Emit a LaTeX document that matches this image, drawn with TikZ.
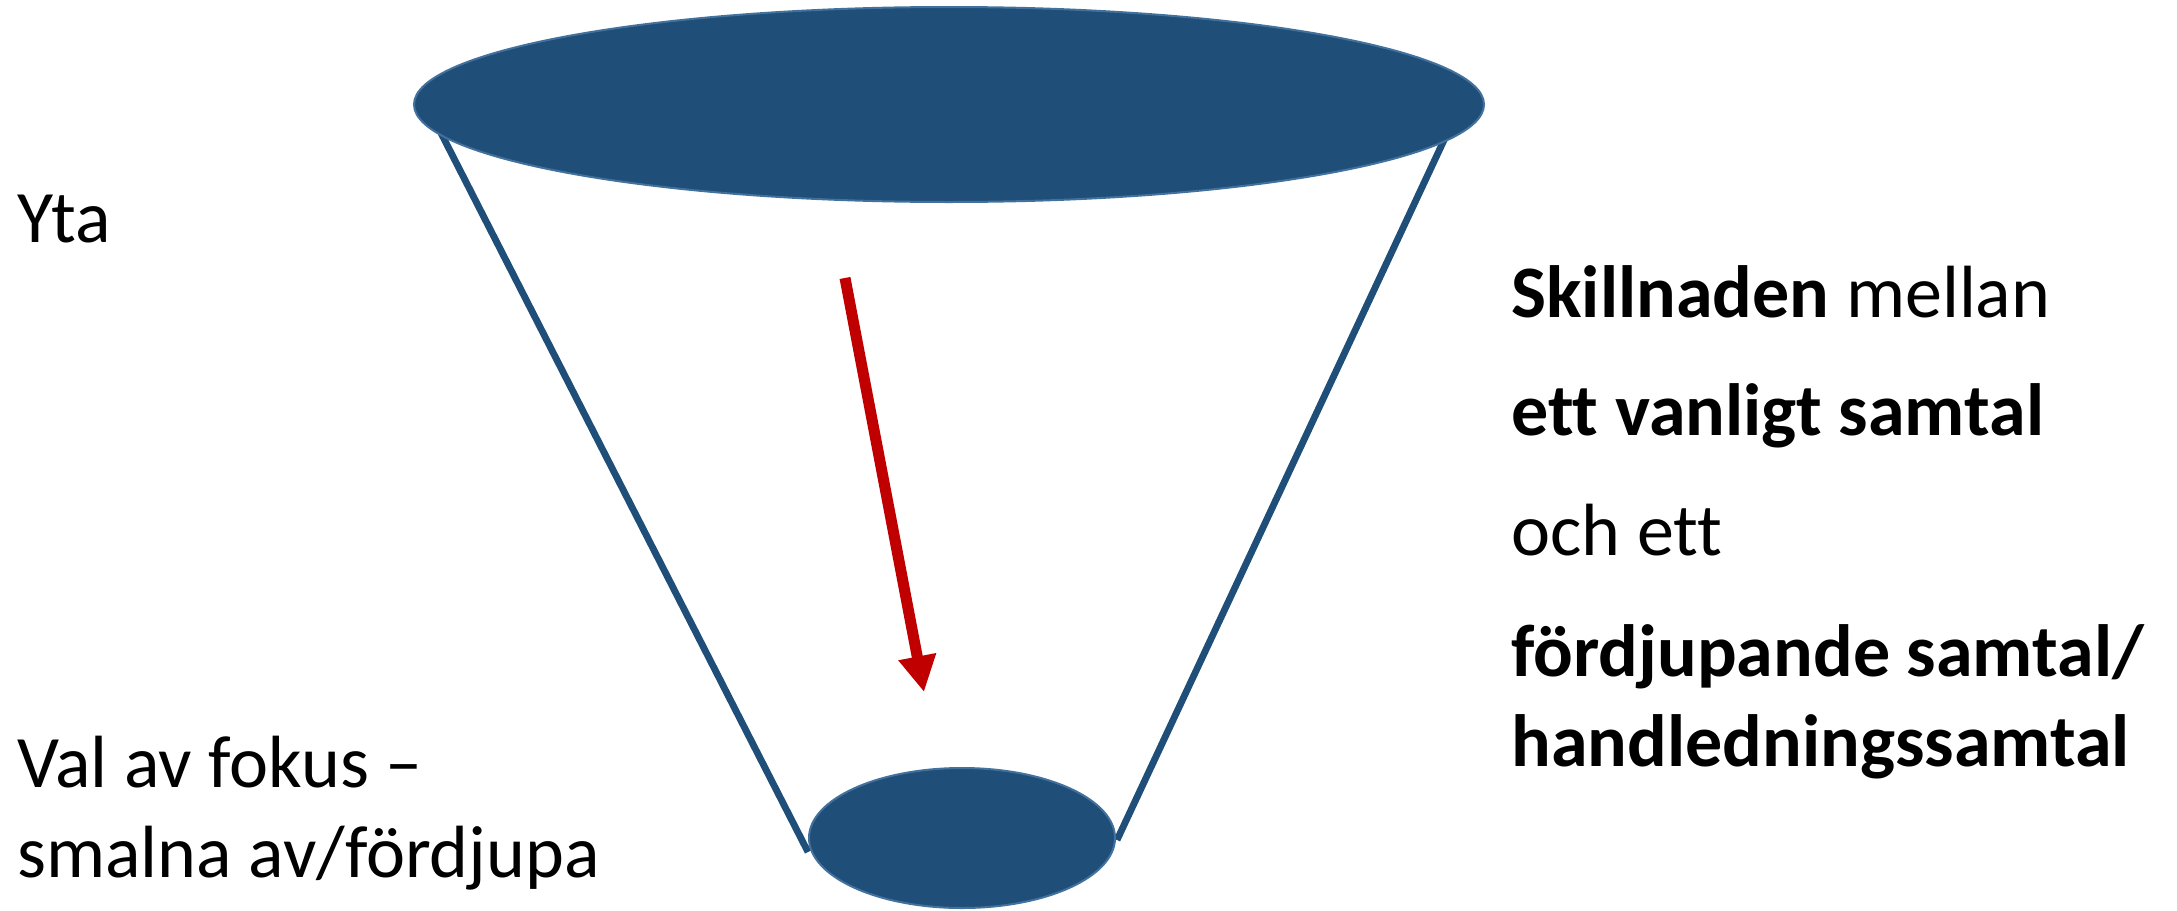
\documentclass[tikz,border=0pt]{standalone}
\usepackage{fontspec}
\setmainfont{Carlito}[Ligatures={NoCommon}]
\usetikzlibrary{arrows.meta}
\definecolor{funnel}{HTML}{1F4E79}
\definecolor{rim}{HTML}{41719C}
\definecolor{arrowred}{HTML}{C00000}
\tikzset{
  disc/.style={draw=rim, line width=1pt, fill=funnel},
  side/.style={draw=funnel, line width=3.4pt},
  push/.style={draw=arrowred, line width=5.5pt, -{Triangle[length=18pt,width=18pt]}},
  lbl/.style={anchor=base west, inner sep=0pt, font=\fontsize{37}{44}\selectfont},
}
\begin{document}
\begin{tikzpicture}[x=0.5pt,y=-0.5pt]
\useasboundingbox (0,0) rectangle (2177,910);
% sides
\coordinate (tl) at (441,133);
\coordinate (bl) at (808,852);
\coordinate (tr) at (1445,138);
\coordinate (br) at (1117,840);
\draw[side] (tl) -- (bl);
\draw[side] (tr) -- (br);
% discs
\coordinate (top) at (949,104.5);
\coordinate (bottom) at (962,838);
\draw[disc] (top) ellipse [x radius=535, y radius=97.5];
\draw[disc] (bottom) ellipse [x radius=153, y radius=70];
% arrow
\coordinate (a1) at (845,278);
\coordinate (a2) at (924,692);
\draw[push] (a1) -- (a2);
% labels
\node[lbl] (yta) at (17,242) {Yta};
\node[lbl] (val1) at (17,787) {Val av fokus –};
\node[lbl] (val2) at (17,877) {smalna av/fördjupa};
\node[lbl] (r1) at (1511,317) {\textbf{Skillnaden} mellan};
\node[lbl] (r2) at (1511,435) {\textbf{ett vanligt samtal}};
\node[lbl] (r3) at (1511,555) {och ett};
\node[lbl] (r4) at (1511,676) {\textbf{fördjupande samtal/}};
\node[lbl] (r5) at (1511,766) {\textbf{handledningssamtal}};
\end{tikzpicture}
\end{document}
